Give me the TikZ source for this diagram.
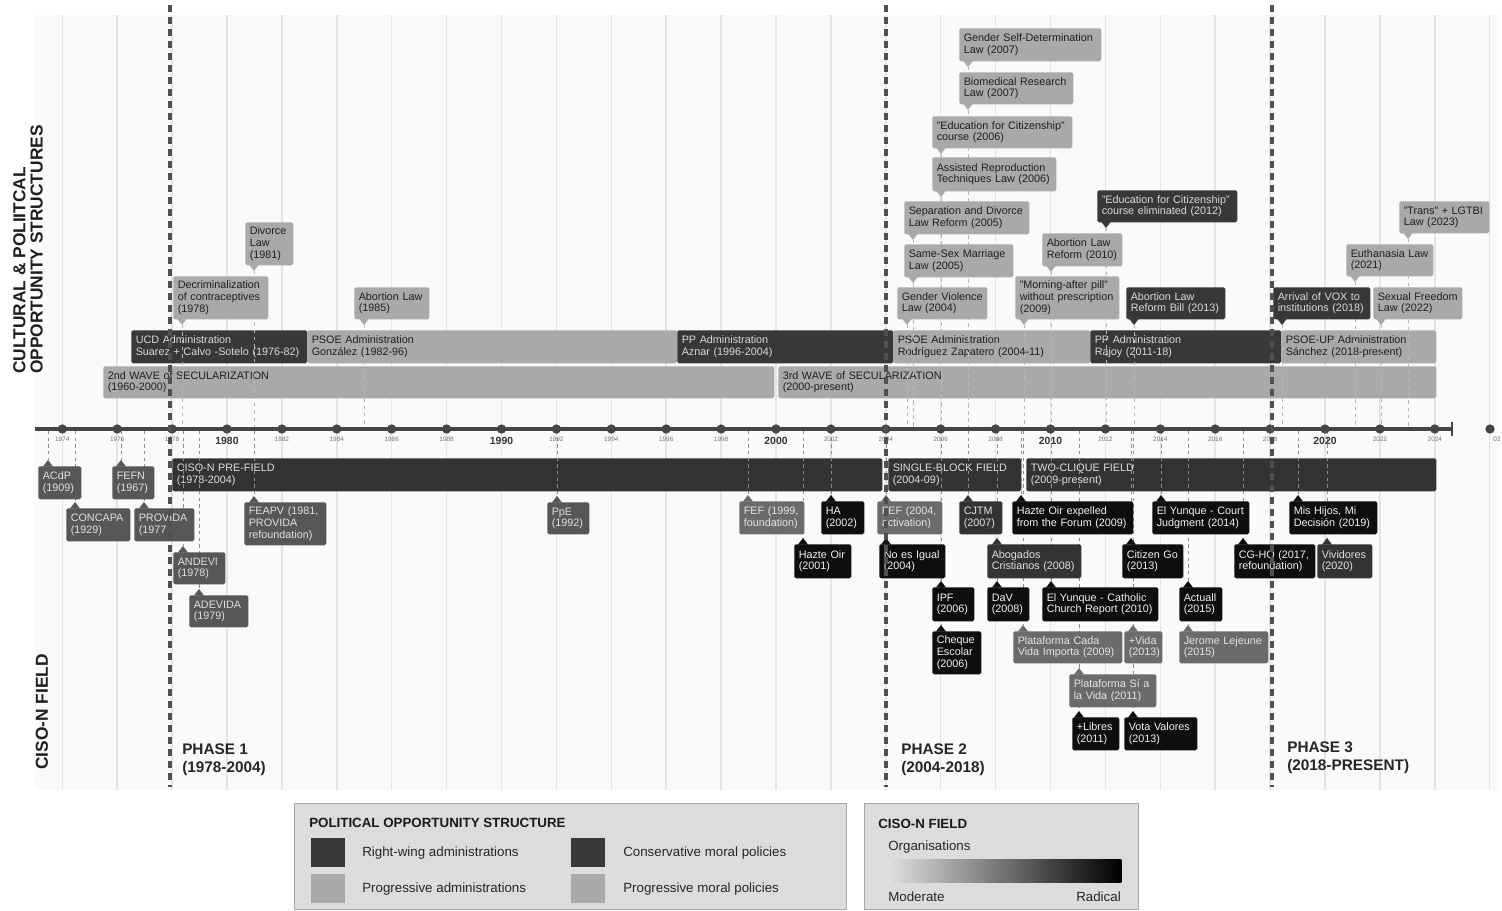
\documentclass[tikz,border=0pt]{standalone}
\usepackage{fontspec}
\setmainfont{Liberation Sans}
\pgfdeclarelayer{bg}
\pgfdeclarelayer{bars}
\pgfdeclarelayer{conns}
\pgfsetlayers{bg,bars,conns,main}
\definecolor{lightbox}{HTML}{A9A9A9}
\definecolor{darkbox}{HTML}{383838}
\definecolor{blackbox}{HTML}{0E0E0E}
\definecolor{midbox}{HTML}{575757}
\definecolor{modbox}{HTML}{6B6B6B}
\definecolor{drkbox}{HTML}{333333}
\definecolor{gridc}{HTML}{E4E4E4}
\definecolor{panelc}{HTML}{FAFAFA}
\definecolor{axisc}{HTML}{454545}
\definecolor{phasec}{HTML}{505050}
\definecolor{connc}{HTML}{8C8C8C}
\definecolor{connlight}{HTML}{B8B8B8}
\definecolor{legfill}{HTML}{DCDCDC}
\definecolor{legdraw}{HTML}{A8A8A8}
\tikzset{
 boxfont/.style={font=\fontsize{8.1}{8.7}\selectfont},
 plight/.style={fill=lightbox, text=black!88},
 pdark/.style={fill=darkbox, text=white!85!black},
 oblack/.style={fill=blackbox, text=white!95!black},
 omid/.style={fill=midbox, text=white!88!black},
 omod/.style={fill=modbox, text=white!90!black},
 odark/.style={fill=drkbox, text=white!88!black},
 conn/.style={draw=connc, line width=0.75pt, dash pattern=on 2.5pt off 2.5pt},
 connup/.style={draw=connlight, line width=0.75pt, dash pattern=on 2.5pt off 3pt},
 phaseline/.style={draw=phasec, line width=2.4pt, dash pattern=on 5.5pt off 3.5pt},
 yearminor/.style={font=\fontsize{4.8}{5}\selectfont, text=black!55, inner sep=0pt},
 yearmajor/.style={font=\fontsize{7.8}{8}\selectfont\bfseries, text=black!80, inner sep=0pt},
 phaselabel/.style={font=\fontsize{11.5}{13.5}\selectfont\bfseries, text=black!85, align=left, inner sep=0pt, anchor=north west},
 sidelabel/.style={font=\fontsize{13}{13}\selectfont\bfseries, text=black!88, align=left, inner sep=0pt, rotate=90, anchor=west},
 legbox/.style={fill=legfill, draw=legdraw, line width=0.9pt, anchor=north west, inner sep=0pt},
 legtext/.style={font=\fontsize{10}{11}\selectfont, text=black!85, anchor=west, inner sep=0pt},
 legtitle/.style={font=\fontsize{10}{11}\selectfont\bfseries, text=black!90, anchor=west, inner sep=0pt},
}
\newcommand\ebox[7]{%
  \pgfmathsetmacro\ebw{(#4-9)*0.75}%
  \node[#6, boxfont, rounded corners=1.2pt, anchor=north west, inner xsep=3.375pt, inner ysep=0pt, minimum height=#5*0.75pt, text width=\ebw pt, align=left] (#1) at (#2,#3) {#7};%
}
\newcommand\tbox[8]{%
  \ebox{#1}{#2}{#3}{#4}{#5}{#6}{#8}%
  \fill[#6] (#7-5,#3+#5-0.5) -- (#7,#3+#5+6) -- (#7+5,#3+#5-0.5) -- cycle;%
  \coordinate (#1-tip) at (#7,#3+#5+6);%
  \coordinate (#1-ax) at (#7,427);%
  \begin{pgfonlayer}{conns}\draw[connup] (#1-tip) -- (#1-ax);\end{pgfonlayer}%
}
\newcommand\bbox[8]{%
  \ebox{#1}{#2}{#3}{#4}{#5}{#6}{#8}%
  \fill[#6] (#7-5,#3+0.5) -- (#7,#3-6) -- (#7+5,#3+0.5) -- cycle;%
  \coordinate (#1-tip) at (#7,#3-6);%
  \coordinate (#1-ax) at (#7,431);%
  \begin{pgfonlayer}{conns}\draw[conn] (#1-ax) -- (#1-tip);\end{pgfonlayer}%
}
\newcommand\barnode[7]{\begin{pgfonlayer}{bars}\ebox{#1}{#2}{#3}{#4}{#5}{#6}{#7}\end{pgfonlayer}}
\begin{document}
\begin{tikzpicture}[x=0.75pt,y=-0.75pt]
\useasboundingbox (0,0) rectangle (1502,910);
\begin{pgfonlayer}{bg}
\fill[white] (0,0) rectangle (1502,910);
\fill[panelc] (35,15) rectangle (1500,790);
\foreach \yr in {1974,1976,...,2026}{
  \pgfmathsetmacro\xx{227+(\yr-1980)*27.45}
  \draw[gridc, line width=1.1pt] (\xx,15) -- (\xx,790);
}
\end{pgfonlayer}

% ---------- administrations and secularization ----------
\barnode{ucd}{131}{330}{176}{33}{pdark}{UCD Administration\\Suarez + Calvo -Sotelo (1976-82)}
\barnode{psoe1}{307}{330}{370}{33}{plight}{PSOE Administration\\González (1982-96)}
\barnode{pp1}{677}{330}{216}{33}{pdark}{PP Administration\\Aznar (1996-2004)}
\barnode{psoe2}{893}{330}{197}{33}{plight}{PSOE Administration\\Rodríguez Zapatero (2004-11)}
\barnode{pp2}{1090}{330}{191}{33}{pdark}{PP Administration\\Rajoy (2011-18)}
\barnode{psoe3}{1281}{330}{155}{33}{plight}{PSOE-UP Administration\\Sánchez (2018-present)}
\barnode{sec2}{103}{366}{671}{32}{plight}{2nd WAVE of SECULARIZATION\\(1960-2000)}
\barnode{sec3}{778}{366}{658}{32}{plight}{3rd WAVE of SECULARIZATION\\(2000-present)}

% ---------- CISO-N field phases ----------
\barnode{prefield}{172}{458}{710}{33}{odark}{CISO-N PRE-FIELD\\(1978-2004)}
\barnode{single}{888}{458}{133}{33}{odark}{SINGLE-BLOCK FIELD\\(2004-09)}
\barnode{twoclique}{1026}{458}{410}{33}{odark}{TWO-CLIQUE FIELD\\(2009-present)}

% ---------- moral policies (top) ----------
\tbox{divorce}{245}{222}{48}{43}{plight}{254}{Divorce\\Law\\(1981)}
\tbox{decrim}{173}{276}{95}{43}{plight}{182}{Decriminalization\\of contraceptives\\(1978)}
\tbox{abort85}{354}{287}{75}{32}{plight}{364}{Abortion Law\\(1985)}
\tbox{gsd}{959}{28}{142}{33}{plight}{968}{Gender Self-Determination\\Law (2007)}
\tbox{biomed}{959}{72}{114}{32}{plight}{968}{Biomedical Research\\Law (2007)}
\tbox{efc}{932}{116}{140}{32}{plight}{941}{"Education for Citizenship"\\course (2006)}
\tbox{art}{932}{157}{124}{34}{plight}{941}{Assisted Reproduction\\Techniques Law (2006)}
\tbox{sdl}{904}{201}{125}{33}{plight}{913}{Separation and Divorce\\Law Reform (2005)}
\tbox{ssm}{904}{244}{109}{33}{plight}{913}{Same-Sex Marriage\\Law (2005)}
\tbox{gvl}{897}{287}{90}{32}{plight}{907}{Gender Violence\\Law (2004)}
\tbox{map}{1015}{276}{104}{43}{plight}{1024}{"Morning-after pill"\\without prescription\\(2009)}
\tbox{alr}{1042}{233}{80}{33}{plight}{1051}{Abortion Law\\Reform (2010)}
\tbox{efce}{1097}{190}{140}{32}{pdark}{1106}{"Education for Citizenship"\\course eliminated (2012)}
\tbox{alrb}{1126}{287}{99}{32}{pdark}{1134}{Abortion Law\\Reform Bill (2013)}
\tbox{trans}{1399}{201}{90}{32}{plight}{1408}{"Trans" + LGTBI\\Law (2023)}
\tbox{euth}{1346}{244}{87}{32}{plight}{1355}{Euthanasia Law\\(2021)}
\tbox{vox}{1273}{287}{97}{32}{pdark}{1282}{Arrival of VOX to\\institutions (2018)}
\tbox{sfl}{1373}{287}{89}{32}{plight}{1381}{Sexual Freedom\\Law (2022)}

% ---------- organisations (bottom) ----------
\bbox{acdp}{38}{466}{43}{33}{omid}{48}{ACdP\\(1909)}
\bbox{concapa}{66}{508}{64}{33}{omid}{75}{CONCAPA\\(1929)}
\bbox{fefn}{112}{466}{42}{33}{omid}{121}{FEFN\\(1967)}
\bbox{provida}{134}{508}{60}{33}{omid}{144}{PROVIDA\\(1977}
\bbox{andevi}{173}{552}{52}{32}{omid}{183}{ANDEVI\\(1978)}
\bbox{adevida}{189}{595}{59}{32}{omid}{199}{ADEVIDA\\(1979)}
\bbox{feapv}{244}{502}{82}{43}{omid}{254}{FEAPV (1981,\\PROVIDA\\refoundation)}
\bbox{ppe}{547}{502}{42}{32}{omid}{557}{PpE\\(1992)}
\bbox{fef99}{739}{501}{65}{33}{omod}{748}{FEF (1999,\\foundation)}
\bbox{ha}{821}{501}{43}{33}{oblack}{831}{HA\\(2002)}
\bbox{hazte01}{794}{544}{57}{34}{oblack}{803}{Hazte Oir\\(2001)}
\bbox{fef04}{877}{501}{65}{33}{omod}{886}{FEF (2004,\\activation)}
\bbox{noes}{879}{544}{66}{34}{oblack}{886}{No es Igual\\(2004)}
\bbox{cjtm}{959}{501}{43}{33}{odark}{968}{CJTM\\(2007)}
\bbox{ipf}{932}{587}{42}{34}{oblack}{941}{IPF\\(2006)}
\bbox{cheque}{932}{631}{49}{43}{oblack}{941}{Cheque\\Escolar\\(2006)}
\bbox{abogados}{987}{544}{94}{34}{odark}{997}{Abogados\\Cristianos (2008)}
\bbox{dav}{987}{587}{42}{34}{oblack}{997}{DaV\\(2008)}
\bbox{hazte09}{1012}{501}{121}{33}{oblack}{1021}{Hazte Oir expelled\\from the Forum (2009)}
\bbox{court}{1152}{501}{97}{33}{oblack}{1161}{El Yunque - Court\\Judgment (2014)}
\bbox{citizengo}{1122}{544}{61}{34}{oblack}{1131}{Citizen Go\\(2013)}
\bbox{catholic}{1042}{587}{116}{34}{oblack}{1051}{El Yunque - Catholic\\Church Report (2010)}
\bbox{actuall}{1179}{587}{43}{34}{oblack}{1188}{Actuall\\(2015)}
\bbox{cadavida}{1013}{631}{109}{32}{omod}{1023}{Plataforma Cada\\Vida Importa (2009)}
\bbox{masvida}{1124}{631}{38}{32}{omod}{1133}{+Vida\\(2013)}
\bbox{lejeune}{1179}{631}{89}{32}{omod}{1188}{Jerome Lejeune\\(2015)}
\bbox{siavida}{1069}{674}{87}{33}{omod}{1079}{Plataforma Sí a\\la Vida (2011)}
\bbox{libres}{1072}{717}{47}{33}{oblack}{1079}{+Libres\\(2011)}
\bbox{votav}{1124}{717}{73}{33}{oblack}{1133}{Vota Valores\\(2013)}
\bbox{cgho}{1234}{544}{81}{34}{oblack}{1243}{CG-HO (2017,\\refoundation)}
\bbox{mishijos}{1289}{501}{88}{33}{oblack}{1298}{Mis Hijos, Mi\\Decisión (2019)}
\bbox{vividores}{1317}{544}{55}{34}{odark}{1327}{Vividores\\(2020)}

% ---------- time axis ----------
\coordinate (axL) at (35,429);
\coordinate (axR) at (1452,429);
\draw[axisc, line width=3.2pt] (axL) -- (axR);
\coordinate (axRt) at (1452,422);
\coordinate (axRb) at (1452,436);
\draw[axisc, line width=1.6pt] (axRt) -- (axRb);
\foreach \yr in {1974,1976,...,2024}{
  \pgfmathsetmacro\xx{227+(\yr-1980)*27.45}
  \fill[axisc] (\xx,429) circle (3.5pt);
}
\foreach \yr in {1974,1976,1978,1982,1984,1986,1988,1992,1994,1996,1998,2002,2004,2006,2008,2012,2014,2016,2018,2022,2024}{
  \pgfmathsetmacro\xx{227+(\yr-1980)*27.45}
  \node[yearminor] (y\yr) at (\xx,439) {\yr};
}
\foreach \yr in {1980,1990,2000,2010,2020}{
  \pgfmathsetmacro\xx{227+(\yr-1980)*27.45}
  \node[yearmajor] (y\yr) at (\xx,441) {\yr};
}
\fill[axisc] (1490,429) circle (3.5pt);
\node[yearminor] (yextra) at (1497,439) {02};

% ---------- phase lines ----------
\coordinate (ph1t) at (170,5);   \coordinate (ph1b) at (170,787);
\coordinate (ph2t) at (886,5);   \coordinate (ph2b) at (886,787);
\coordinate (ph3t) at (1272,5);  \coordinate (ph3b) at (1272,787);
\draw[phaseline] (ph1t) -- (ph1b);
\draw[phaseline] (ph2t) -- (ph2b);
\draw[phaseline] (ph3t) -- (ph3b);
\node[phaselabel] (phase1) at (182,744) {PHASE 1\\(1978-2004)};
\node[phaselabel] (phase2) at (901,744) {PHASE 2\\(2004-2018)};
\node[phaselabel] (phase3) at (1287,742) {PHASE 3\\(2018-PRESENT)};

% ---------- side labels ----------
\node[sidelabel] (cpos) at (28,374) {CULTURAL \& POLIITCAL\\OPPORTUNITY STRUCTURES};
\node[sidelabel] (cison) at (42,770) {CISO-N FIELD};

% ---------- legend ----------
\node[legbox, minimum width=552*0.75pt, minimum height=106*0.75pt] (leg1) at (294,803) {};
\node[legtitle] (leg1t) at (309,823) {POLITICAL OPPORTUNITY STRUCTURE};
\node[fill=darkbox, anchor=north west, minimum width=34*0.75pt, minimum height=29*0.75pt, inner sep=0pt] (sw1) at (311,838) {};
\node[fill=lightbox, anchor=north west, minimum width=34*0.75pt, minimum height=29*0.75pt, inner sep=0pt] (sw2) at (311,874) {};
\node[fill=darkbox, anchor=north west, minimum width=34*0.75pt, minimum height=29*0.75pt, inner sep=0pt] (sw3) at (571,838) {};
\node[fill=lightbox, anchor=north west, minimum width=34*0.75pt, minimum height=29*0.75pt, inner sep=0pt] (sw4) at (571,874) {};
\node[legtext] (l1) at (362,853) {Right-wing administrations};
\node[legtext] (l2) at (362,889) {Progressive administrations};
\node[legtext] (l3) at (623,853) {Conservative moral policies};
\node[legtext] (l4) at (623,889) {Progressive moral policies};
\node[legbox, minimum width=274*0.75pt, minimum height=106*0.75pt] (leg2) at (864,803) {};
\node[legtitle] (leg2t) at (878,824) {CISO-N FIELD};
\node[legtext] (org) at (888,847) {Organisations};
\node[anchor=north west, minimum width=233*0.75pt, minimum height=23*0.75pt, inner sep=0pt, left color=legfill!90!white, middle color=black!62, right color=black] (grad) at (888,859) {};
\node[legtext] (mod) at (888,897) {Moderate};
\node[legtext, anchor=east] (rad) at (1121,897) {Radical};
\end{tikzpicture}
\end{document}
